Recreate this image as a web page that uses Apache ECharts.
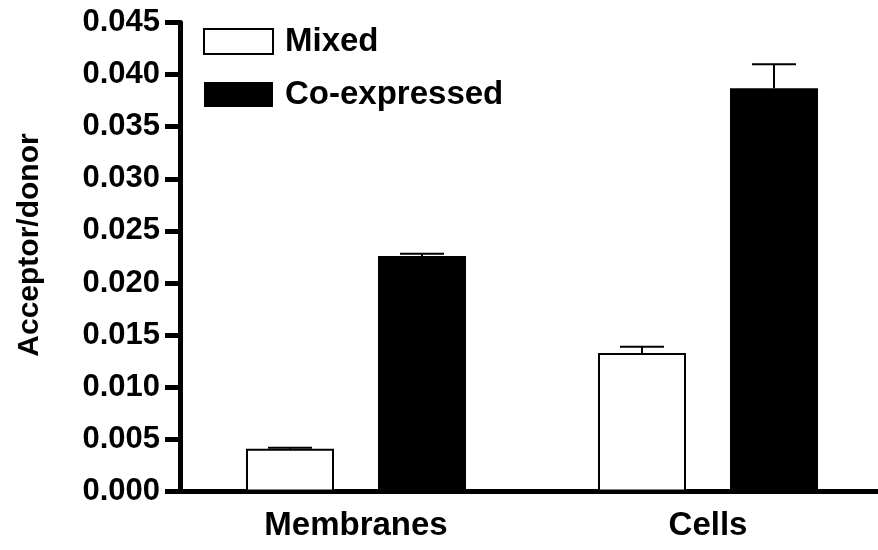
<!DOCTYPE html>
<html>
<head>
<meta charset="utf-8">
<script src="https://cdn.jsdelivr.net/npm/echarts@6/dist/echarts.min.js"></script>
<style>html,body{margin:0;padding:0;background:#fff}#c{width:878px;height:550px}</style>
</head>
<body>
<div id="c"></div>
<script>
var categories = ['Membranes', 'Cells'];
var seriesNames = ['Mixed', 'Co-expressed'];
var mixedValues = [0.0041, 0.0133];
var mixedErrors = [0.0001, 0.0006];
var coValues = [0.0226, 0.0387];
var coErrors = [0.0002, 0.0023];
var yTicks = [0, 0.005, 0.01, 0.015, 0.02, 0.025, 0.03, 0.035, 0.04, 0.045];
var yTitle = 'Acceptor/donor';

var FONT = 'Liberation Sans, Arial, sans-serif';
var chart = echarts.init(document.getElementById('c'), null, {renderer: 'canvas'});

var BAR_W = 88, GAP = 44;
function errSeries(vals, errs, offset) {
  return {
    type: 'custom',
    silent: true,
    z: 5,
    data: vals.map(function (v, i) { return [i, v, v + errs[i]]; }),
    renderItem: function (params, api) {
      var base = api.coord([api.value(0), api.value(1)]);
      var top = api.coord([api.value(0), api.value(2)]);
      var x = base[0] + offset;
      var hw = BAR_W / 4;
      return {
        type: 'group',
        children: [
          {type: 'line', shape: {x1: x, y1: base[1], x2: x, y2: top[1]}, style: {stroke: '#000', lineWidth: 2}},
          {type: 'line', shape: {x1: x - hw, y1: top[1], x2: x + hw, y2: top[1]}, style: {stroke: '#000', lineWidth: 2}}
        ]
      };
    }
  };
}

chart.setOption({
  animation: false,
  backgroundColor: '#fff',
  grid: {left: 180, top: 22.5, width: 704, bottom: 58.5, containLabel: false, outerBoundsMode: 'none'},
  legend: {
    orient: 'vertical', left: 203, top: 25, padding: 0,
    itemWidth: 69, itemHeight: 25, itemGap: 20,
    icon: 'rect',
    data: seriesNames,
    textStyle: {fontFamily: FONT, fontWeight: 'bold', fontSize: 33, color: '#000', padding: [0, 0, 0, 7]}
  },
  graphic: [{
    type: 'text',
    x: 30, y: 245,
    rotation: Math.PI / 2,
    style: {
      text: yTitle, fontFamily: FONT, fontWeight: 'bold', fontSize: 30, fill: '#000',
      align: 'center', verticalAlign: 'middle'
    }
  }],
  xAxis: {
    type: 'category',
    data: categories,
    axisLine: {lineStyle: {color: '#000', width: 5}},
    axisTick: {show: false},
    axisLabel: {fontFamily: FONT, fontWeight: 'bold', fontSize: 33, color: '#000', margin: 18}
  },
  yAxis: {
    type: 'value',
    min: 0, max: 0.045, interval: 0.005,
    axisLine: {show: true, lineStyle: {color: '#000', width: 5}},
    axisTick: {show: true, length: 15, lineStyle: {color: '#000', width: 5}},
    splitLine: {show: false},
    axisLabel: {
      fontFamily: FONT, fontWeight: 'bold', fontSize: 31, color: '#000', margin: 20,
      formatter: function (v) {
        for (var i = 0; i < yTicks.length; i++) if (Math.abs(yTicks[i] - v) < 1e-9) return yTicks[i].toFixed(3);
        return '';
      }
    }
  },
  series: [
    {
      name: seriesNames[0], type: 'bar', data: mixedValues,
      barWidth: BAR_W, barGap: '50%',
      itemStyle: {color: '#fff', borderColor: '#000', borderWidth: 2}
    },
    {
      name: seriesNames[1], type: 'bar', data: coValues,
      barWidth: BAR_W, barGap: '50%',
      itemStyle: {color: '#000', borderColor: '#000', borderWidth: 0}
    },
    errSeries(mixedValues, mixedErrors, -(BAR_W + GAP) / 2),
    errSeries(coValues, coErrors, (BAR_W + GAP) / 2)
  ]
});
</script>
</body>
</html>
